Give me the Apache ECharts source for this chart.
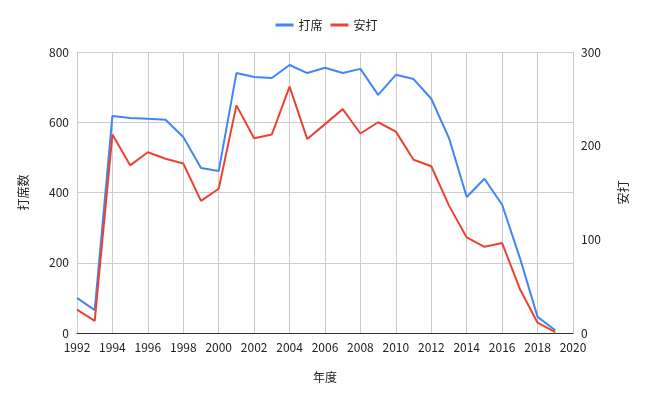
<!DOCTYPE html><html><head><meta charset="utf-8"><script src="https://cdn.jsdelivr.net/npm/echarts@6/dist/echarts.min.js"></script></head><body style="margin:0"><div id="c" style="width:653px;height:403px"></div><script>
const years=[1992,1993,1994,1995,1996,1997,1998,1999,2000,2001,2002,2003,2004,2005,2006,2007,2008,2009,2010,2011,2012,2013,2014,2015,2016,2017,2018,2019];
const atBats=[100,65,618,612,610,607,558,470,461,740,729,726,763,740,755,740,752,678,735,723,667,555,387,439,365,214,46,8];
const hits=[25,13,212,179,193,186,181,141,154,243,208,212,263,207,223,239,213,225,215,185,178,136,102,92,96,47,11,1];
const f='"Noto Sans CJK JP", Roboto, sans-serif';
const ch=echarts.init(document.getElementById('c'));
ch.setOption({textStyle:{fontFamily:f},
legend:{top:14,left:'center',itemWidth:18,itemHeight:3,icon:'rect',textStyle:{fontSize:12,color:'#222'},data:['打席','安打']},
grid:{left:77,right:80,top:52,bottom:70},
xAxis:{type:'value',min:1992,max:2020,interval:2,name:'年度',nameLocation:'middle',nameGap:38,nameTextStyle:{color:'#222',fontSize:12},
axisLabel:{color:'#222',fontSize:12,formatter:v=>String(v)},axisLine:{lineStyle:{color:'#333'}},axisTick:{show:false},splitLine:{show:true,lineStyle:{color:'#ccc'}}},
yAxis:[{type:'value',min:0,max:800,interval:200,name:'打席数',nameLocation:'middle',nameGap:48,nameTextStyle:{color:'#222',fontSize:12},axisLabel:{color:'#222',fontSize:12},splitLine:{lineStyle:{color:'#ccc'}},axisLine:{show:false},axisTick:{show:false}},
{type:'value',min:0,max:300,interval:100,name:'安打',nameLocation:'middle',nameGap:44,nameTextStyle:{color:'#222',fontSize:12},axisLabel:{color:'#222',fontSize:12},splitLine:{show:false},axisLine:{show:false},axisTick:{show:false}}],
series:[{name:'打席',type:'line',yAxisIndex:0,data:years.map((y,i)=>[y,atBats[i]]),showSymbol:false,lineStyle:{width:2,color:'#4285F4'},itemStyle:{color:'#4285F4'}},
{name:'安打',type:'line',yAxisIndex:1,data:years.map((y,i)=>[y,hits[i]]),showSymbol:false,lineStyle:{width:2,color:'#EA4335'},itemStyle:{color:'#EA4335'}}]});
</script></body></html>
